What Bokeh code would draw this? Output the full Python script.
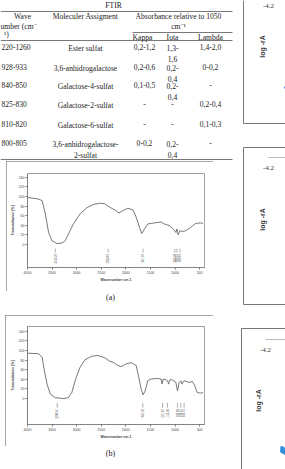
from math import pi
from bokeh.plotting import figure
from bokeh.layouts import row, column
from bokeh.models import Range1d, FixedTicker
from bokeh.embed import file_html
from bokeh.resources import INLINE
from bokeh.core.properties import value

# ---------------- data ----------------
table_title = "FTIR"
hdr_wave = ["Wave", "umber (cm⁻", "¹)"]
hdr_assign = "Moleculer Assigment"
hdr_abs = ["Absorbance relative to 1050", "cm⁻¹"]
hdr_types = ["Kappa", "Iota", "Lambda"]
wave_numbers = ["220-1260", "928-933", "840-850", "825-830", "810-820", "800-805"]
assignments = ["Ester sulfat", "3,6-anhidrogalactose", "Galactose-4-sulfat",
               "Galactose-2-sulfat", "Galactose-6-sulfat", "3,6-anhidrogalactose-\n2-sulfat"]
kappa = ["0,2-1,2", "0,2-0,6", "0,1-0,5", "-", "-", "0-0,2"]
iota = ["1,3-\n1,6", "0,2-\n0,4", "0,2-\n0,4", "-", "-", "0,2-\n0,4"]
lambda_ = ["1,4-2,0", "0-0,2", "-", "0,2-0,4", "0,1-0,3", "-"]

x_ticks = [4000, 3500, 3000, 2500, 2000, 1500, 1000, 500]
y_ticks = [0, 20, 40, 60, 80, 100, 120, 140]

wn_a = [4000, 3804, 3704, 3637, 3571, 3502, 3401, 3300, 3234, 3167, 3067, 2932, 2796, 2663,
        2528, 2428, 2327, 2226, 2139, 2059, 1958, 1857, 1788, 1722, 1676, 1621, 1555, 1419,
        1284, 1218, 1117, 1036, 982, 962, 936, 901, 849, 780, 680, 579, 478, 432]
tr_a = [98.0, 95.3, 91.7, 63.8, 25.1, 7.7, 2.0, 2.9, 7.7, 21.8, 42.8, 63.8, 76.4, 83.3,
        86.0, 84.8, 77.6, 72.2, 65.9, 70.7, 75.5, 72.2, 56.6, 35.6, 23.0, 32.3, 42.8, 44.9,
        47.0, 42.8, 39.2, 32.3, 25.1, 32.3, 20.3, 28.7, 27.2, 28.7, 35.6, 44.0, 44.9, 44.0]
peaks_a = [3433, 2360, 1651, 1003, 960, 899]
peak_labels_a = ["3433.29", "2360.87", "1651.07", "1003.29", "960.25", "899.87"]

wn_b = [4000, 3772, 3704, 3657, 3603, 3536, 3436, 3268, 3167, 3099, 3032, 2932, 2831, 2696,
        2563, 2428, 2327, 2260, 2159, 2091, 1990, 1889, 1788, 1736, 1688, 1648, 1607, 1555,
        1486, 1353, 1284, 1264, 1238, 1184, 1151, 1131, 1103, 1051, 982, 950, 916, 881, 861,
        815, 714, 647, 599, 546, 478, 432]
tr_b = [94.4, 93.2, 86.0, 58.1, 30.2, 9.2, 2.0, -0.1, 2.0, 12.5, 37.1, 65.0, 80.6, 88.1,
        89.6, 84.8, 77.6, 75.5, 68.6, 66.5, 72.2, 74.9, 68.6, 44.0, 19.7, 7.7, 16.1, 37.1,
        40.7, 41.9, 40.7, 30.2, 40.7, 39.2, 37.1, 30.2, 39.2, 38.6, 33.5, 16.1, 33.5, 37.1, 30.2,
        37.1, 33.5, 35.6, 26.6, 12.5, 11.3, 12.5]
peaks_b = [3395, 1655, 1252, 1151, 950, 881, 815]
peak_labels_b = ["3396.64", "1654.92", "1251.84", "1155.36", "929.69", "879.54", "846.75"]

captions = ["(a)", "(b)"]
panel_tick = "-4.2"
panel_ylabel = "log -rA"

SERIF = value("Liberation Serif")
SANS = value("Liberation Sans")


def blank(w, h, xr, yr, **kw):
    p = figure(width=w, height=h, x_range=Range1d(*xr), y_range=Range1d(*yr),
               output_backend="svg", toolbar_location=None, min_border=0,
               frame_align=False, **kw)
    p.axis.visible = False
    p.grid.visible = False
    p.outline_line_color = None
    return p


# ---------------- table ----------------
tbl = blank(240, 160, (0, 240), (160, 0))
tbl.segment(x0=[0, 132, 0, 0], y0=[11, 32, 40, 159], x1=[232, 232, 232, 232], y1=[11, 32, 40, 159],
            line_color="#555555", line_width=0.8)


def ttext(x, y, t, align="center", baseline="middle", size="7.6px"):
    tbl.text(x=x, y=y, text=t, text_align=align, text_baseline=baseline,
             text_font=SERIF, text_font_size=size, text_color="#222222",
             text_line_height=1.3)


ttext([113], [5], [table_title])
ttext([22], [16], [hdr_wave[0]])
ttext([0], [26], [hdr_wave[1]], align="left")
ttext([6], [34], [hdr_wave[2]])
ttext([85], [16], [hdr_assign])
ttext([178, 178], [16, 26], hdr_abs)
ttext([142, 172, 210], [37, 37, 37], hdr_types)

row_y = [43, 63, 81, 100, 120, 139]
ttext([1] * 6, row_y, wave_numbers, align="left", baseline="top")
ttext([85] * 6, row_y, assignments, baseline="top")
ttext([144] * 6, row_y, kappa, baseline="top")
ttext([172] * 6, row_y, iota, baseline="top")
ttext([210] * 6, row_y, lambda_, baseline="top")


# ---------------- spectra ----------------
def spectrum(wn, tr, peaks, plabels, w, h, borders, ymin, ymax, margin, pk_y):
    p = figure(width=w, height=h, x_range=Range1d(4000, 400), y_range=Range1d(ymin, ymax),
               output_backend="svg", toolbar_location=None, frame_align=False,
               min_border_left=borders[0], min_border_right=borders[1],
               min_border_top=borders[2], min_border_bottom=borders[3],
               margin=margin,
               styles={"outline": "1px solid #8a8a8a", "outline-offset": "-1px"})
    p.grid.visible = False
    p.outline_line_color = "#777777"
    p.outline_line_width = 0.7
    p.xaxis.ticker = FixedTicker(ticks=x_ticks)
    p.yaxis.ticker = FixedTicker(ticks=y_ticks)
    for ax in (p.xaxis[0], p.yaxis[0]):
        ax.major_label_text_font_size = "3.5px"
        ax.major_label_text_font = "Liberation Sans"
        ax.major_label_text_color = "#444444"
        ax.axis_label_text_font_size = "3.5px"
        ax.axis_label_text_font_style = "bold"
        ax.axis_label_text_font = "Liberation Sans"
        ax.axis_label_text_color = "#444444"
        ax.major_tick_in = 0
        ax.major_tick_out = 2
        ax.minor_tick_out = 0
        ax.minor_tick_in = 0
        ax.major_label_standoff = 1
        ax.axis_label_standoff = 1
        ax.axis_line_color = "#777777"
        ax.axis_line_width = 0.7
        ax.major_tick_line_color = "#777777"
    p.xaxis.axis_label = "Wavenumber cm-1"
    p.yaxis.axis_label = "Transmittance [%]"
    p.line(wn, tr, line_color="#555555", line_width=0.8)
    p.segment(x0=peaks, y0=[pk_y[0]] * len(peaks), x1=peaks, y1=[pk_y[1]] * len(peaks),
              line_color="#777777", line_width=0.6)
    p.text(x=peaks, y=[pk_y[2]] * len(peaks), text=plabels, angle=pi / 2,
           text_align="right", text_baseline="middle", text_font=SANS,
           text_font_size="2.6px", text_color="#555555")
    return p


def caption(txt, h, y):
    c = blank(240, h, (0, 240), (h, 0))
    c.text(x=[110], y=[y], text=[txt], text_align="center", text_baseline="middle",
           text_font=SERIF, text_font_size="8px", text_color="#222222")
    return c


# box (a): x 6..213, y 161..291 ; frame x 27..204, y 173..267
spec_a = spectrum(wn_a, tr_a, peaks_a, peak_labels_a, 207, 130, (21, 9, 12, 24), -48, 148,
                  (1, 27, 0, 6), (-9, -17, -20))
cap_a = caption(captions[0], 24, 6)
# box (b): x 5..213, y 315..446 ; frame x 27..204, y 326..424
spec_b = spectrum(wn_b, tr_b, peaks_b, peak_labels_b, 208, 131, (22, 9, 11, 22), -54, 150,
                  (0, 27, 0, 5), (-9, -19, -22))
cap_b = caption(captions[1], 23, 7)

# ---------------- right-hand panels ----------------
rp = blank(45, 469, (240, 285), (469, 0))
rp.segment(x0=[243, 243, 243, 243, 243, 241, 241], y0=[0, 123, 147, 147, 304, 328, 328],
           x1=[243, 285, 285, 243, 285, 285, 241], y1=[123, 123, 147, 304, 304, 328, 469],
           line_color="#777777", line_width=1)
rp.segment(x0=[268, 265], y0=[157, 339], x1=[285, 285], y1=[157, 339],
           line_color="#bbbbbb", line_width=1)
rp.text(x=[268, 268, 265], y=[5, 167, 349], text=[panel_tick] * 3, text_align="center",
        text_baseline="middle", text_font=SERIF, text_font_size="7px", text_color="#333333")
rp.text(x=[262, 262, 258], y=[46, 219, 400], text=[panel_ylabel] * 3, angle=pi / 2,
        text_align="center", text_baseline="middle", text_font=SANS, text_font_style="bold",
        text_font_size="7px", text_color="#333333")
rp.scatter(x=[285], y=[87], size=2, color="#3a7fd0")
rp.scatter(x=[283], y=[450], marker="diamond", size=10, color="#2f8fdc", angle=0.5)

layout = row(column(tbl, spec_a, cap_a, spec_b, cap_b, spacing=0), rp, spacing=0)
open("out.html", "w").write(file_html(layout, INLINE))
